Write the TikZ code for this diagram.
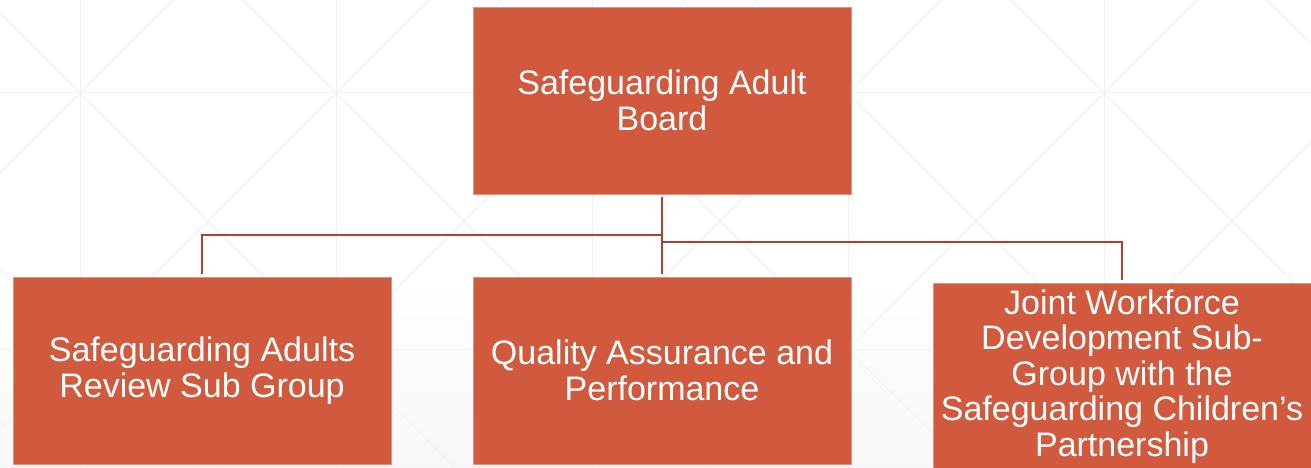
\documentclass[tikz,border=0pt]{standalone}
\usepackage{fontspec}
\setmainfont{Liberation Sans}
\usepackage{xcolor}
\usetikzlibrary{positioning}

\definecolor{boxred}{RGB}{209,90,62}
\definecolor{linkred}{RGB}{168,68,48}
\definecolor{faint}{RGB}{240,240,240}

\tikzset{
    unit/.style={rectangle, fill=boxred, draw=boxred!65!white, line width=.8pt,
        text=white, minimum width=378pt, minimum height=187pt, inner sep=0pt,
        align=center, font=\fontsize{34}{35.5}\selectfont},
    link/.style={draw=linkred, line width=2.8pt},
    gridline/.style={draw=faint, line width=1pt}
}

\begin{document}
\begin{tikzpicture}[x=1pt, y=-1pt]
        \useasboundingbox (0, 0) rectangle (1311, 468);
        \fill[white] (0, 0) rectangle (1311, 468);
        \shade[top color=white, bottom color=black!3] (0, 280) rectangle (1311, 468);

        % background lattice
        \begin{scope}
            \clip (0, 0) rectangle (1311, 468);
            \foreach \x in {80, 336, 592, 848, 1104}
                \draw[gridline] (\x, 0) -- (\x, 468);
            \foreach \y in {93, 349}
                \draw[gridline] (0, \y) -- (1311, \y);
            \foreach \k in {-2, ..., 5}
                \draw[gridline] ({-13 + 256*\k}, 0) -- ({455 + 256*\k}, 468);
            \foreach \k in {0, ..., 6}
                \draw[gridline] ({173 + 256*\k}, 0) -- ({-295 + 256*\k}, 468);
        \end{scope}

        \node[unit] (board) at (662, 100.5) {Safeguarding Adult\\Board};
        \node[unit] (review) at (202, 370.5) {Safeguarding Adults\\Review Sub Group};
        \node[unit] (quality) at (662, 370.5) {Quality Assurance and\\Performance};
        \node[unit] (workforce) at (1122, 376.5) {Joint Workforce\\Development Sub-\\Group with the\\Safeguarding Children’s\\Partnership};

        \coordinate (left) at (662, 235);
        \coordinate (right) at (662, 242);

        \draw[link, shorten <=3pt, shorten >=3pt] (board.south) -- (quality.north);
        \draw[link, shorten >=3pt] (left) -| (review.north);
        \draw[link, shorten >=3pt] (right) -| (workforce.north);
    \end{tikzpicture}
\end{document}
